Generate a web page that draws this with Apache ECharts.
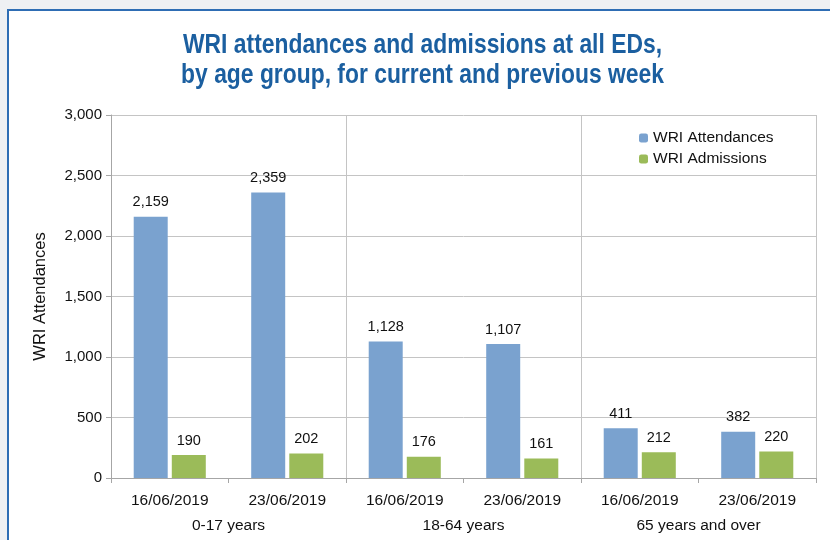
<!DOCTYPE html>
<html>
<head>
<meta charset="utf-8">
<script src="https://cdn.jsdelivr.net/npm/echarts@6/dist/echarts.min.js"></script>
<style>
html,body{margin:0;padding:0;background:#eef0f3;width:830px;height:540px;overflow:hidden;}
#panel{position:absolute;left:7px;top:9px;width:840px;height:560px;background:#fff;border-left:2px solid #2e6db4;border-top:2px solid #2e6db4;}
#chart{position:absolute;left:0;top:0;width:830px;height:540px;}
</style>
</head>
<body>
<div id="panel"></div>
<div id="chart"></div>
<script>
const dates = ['16/06/2019','23/06/2019','16/06/2019','23/06/2019','16/06/2019','23/06/2019'];
const groups = ['0-17 years','18-64 years','65 years and over'];
const attendances = [2159, 2359, 1128, 1107, 411, 382];
const admissions = [190, 202, 176, 161, 212, 220];
const yTicks = {min: 0, max: 3000, interval: 500};
const titleLines = ['WRI attendances and admissions at all EDs,', 'by age group, for current and previous week'];

const fmt = v => Number(v).toLocaleString('en-US');
const chart = echarts.init(document.getElementById('chart'), null, {renderer:'canvas'});
const baseFont = "'Liberation Sans', Arial, sans-serif";
const gridColor = '#c4c4c4';
const txt = '#111111';

// title font is a condensed bold face; emulate it by horizontally scaling a bold sans
const titleFont = "bold 27.5px 'Liberation Sans', Arial, sans-serif";
const mctx = document.createElement('canvas').getContext('2d');
mctx.font = titleFont;
const titleScale = 479 / mctx.measureText(titleLines[0]).width;

chart.setOption({
  backgroundColor: 'transparent',
  animation: false,
  textStyle: {fontFamily: baseFont},
  graphic: titleLines.map((t, i) => ({
    type: 'text', x: 422.5, y: 45.5 + i * 29.5, scaleX: titleScale,
    style: {text: t, font: titleFont, fill: '#1b5fa0', align: 'center', verticalAlign: 'middle'}
  })),
  legend: {
    orient: 'vertical', left: 634, top: 125, itemWidth: 9, itemHeight: 9, itemGap: 5,
    textStyle: {fontSize: 15.5, color: txt, fontFamily: baseFont},
    data: ['WRI Attendances','WRI Admissions']
  },
  grid: {left: 111, top: 115, right: 14, bottom: 62, containLabel: false},
  xAxis: [
    {type: 'category', data: dates, position: 'bottom',
     axisLine: {lineStyle: {color: '#a6a6a6'}},
     axisTick: {show: true, length: 5, lineStyle: {color: '#a6a6a6'}},
     axisLabel: {fontSize: 15.5, color: txt, margin: 15, interval: 0},
     splitLine: {show: false}},
    {type: 'category', data: groups, position: 'bottom', offset: 26,
     axisLine: {show: false}, axisTick: {show: false},
     axisLabel: {fontSize: 15.5, color: txt, margin: 14, interval: 0},
     splitLine: {show: true, interval: 0, lineStyle: {color: gridColor}}}
  ],
  yAxis: {
    type: 'value', min: yTicks.min, max: yTicks.max, interval: yTicks.interval,
    name: 'WRI Attendances', nameLocation: 'middle', nameGap: 62,
    nameTextStyle: {fontSize: 16.5, color: txt},
    axisLine: {show: true, lineStyle: {color: '#a6a6a6'}},
    axisTick: {show: true, length: 5, lineStyle: {color: '#a6a6a6'}},
    axisLabel: {fontSize: 15, color: txt, margin: 9, formatter: fmt},
    splitLine: {show: true, lineStyle: {color: gridColor}}
  },
  series: [
    {name: 'WRI Attendances', type: 'bar', xAxisIndex: 0, data: attendances,
     barWidth: 34, barGap: '12%', itemStyle: {color: '#7aa2cf'},
     label: {show: true, position: 'top', distance: 7, fontSize: 14.5, color: txt, formatter: p => fmt(p.value)}},
    {name: 'WRI Admissions', type: 'bar', xAxisIndex: 0, data: admissions,
     barWidth: 34, barGap: '12%', itemStyle: {color: '#9bbb59'},
     label: {show: true, position: 'top', distance: 7, fontSize: 14.5, color: txt, formatter: p => fmt(p.value)}}
  ]
});
</script>
</body>
</html>
